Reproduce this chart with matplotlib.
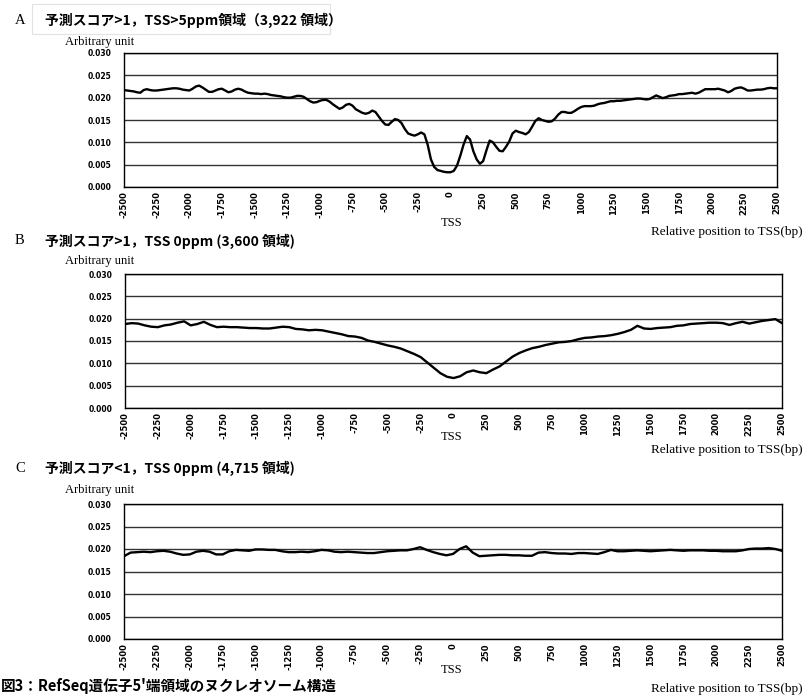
import numpy as np
import matplotlib
matplotlib.use("Agg")
import matplotlib.pyplot as plt
from matplotlib.patches import Rectangle

W, H = 807, 695

# ---- data -------------------------------------------------------------
pos_a = np.arange(-2500, 2501, 25)
score_a = [
    0.0217, 0.0216, 0.0215, 0.0214, 0.0212, 0.0211, 0.0217, 0.0219, 0.0217, 0.0216,
    0.0216, 0.0217, 0.0218, 0.0219, 0.0220, 0.0221, 0.0221, 0.0220, 0.0218, 0.0217,
    0.0216, 0.0220, 0.0225, 0.0227, 0.0223, 0.0218, 0.0213, 0.0213, 0.0216, 0.0219,
    0.0220, 0.0216, 0.0212, 0.0214, 0.0218, 0.0220, 0.0218, 0.0214, 0.0211, 0.0210,
    0.0209, 0.0209, 0.0208, 0.0209, 0.0208, 0.0206, 0.0205, 0.0204, 0.0203, 0.0201,
    0.0200, 0.0200, 0.0202, 0.0204, 0.0204, 0.0202, 0.0197, 0.0192, 0.0189, 0.0190,
    0.0193, 0.0195, 0.0195, 0.0191, 0.0185, 0.0180, 0.0175, 0.0178, 0.0184, 0.0186,
    0.0182, 0.0174, 0.0170, 0.0166, 0.0164, 0.0166, 0.0171, 0.0168, 0.0158, 0.0148,
    0.0140, 0.0139, 0.0146, 0.0152, 0.0150, 0.0143, 0.0130, 0.0120, 0.0117, 0.0115,
    0.0118, 0.0122, 0.0118, 0.0095, 0.0062, 0.0045, 0.0038, 0.0036, 0.0034, 0.0033,
    0.0033, 0.0036, 0.0048, 0.0070, 0.0095, 0.0114, 0.0106, 0.0080, 0.0062, 0.0052,
    0.0058, 0.0082, 0.0104, 0.0100, 0.0090, 0.0081, 0.0080, 0.0090, 0.0102, 0.0120,
    0.0126, 0.0123, 0.0121, 0.0118, 0.0123, 0.0135, 0.0148, 0.0154, 0.0150, 0.0148,
    0.0146, 0.0147, 0.0153, 0.0162, 0.0168, 0.0168, 0.0166, 0.0166, 0.0170, 0.0175,
    0.0179, 0.0181, 0.0181, 0.0181, 0.0182, 0.0185, 0.0187, 0.0188, 0.0190, 0.0192,
    0.0192, 0.0193, 0.0193, 0.0194, 0.0195, 0.0196, 0.0197, 0.0198, 0.0198, 0.0197,
    0.0196, 0.0197, 0.0201, 0.0205, 0.0202, 0.0199, 0.0201, 0.0204, 0.0205, 0.0206,
    0.0208, 0.0208, 0.0209, 0.0210, 0.0211, 0.0209, 0.0211, 0.0215, 0.0219, 0.0219,
    0.0219, 0.0219, 0.0220, 0.0218, 0.0216, 0.0212, 0.0215, 0.0220, 0.0222, 0.0223,
    0.0220, 0.0216, 0.0216, 0.0217, 0.0218, 0.0218, 0.0219, 0.0221, 0.0222, 0.0221,
    0.0221,
]

pos_bc = np.arange(-2500, 2501, 50)
score_b = [
    0.0188, 0.0190, 0.0189, 0.0185, 0.0182, 0.0181, 0.0185, 0.0187, 0.0191, 0.0194,
    0.0185, 0.0188, 0.0193, 0.0186, 0.0181, 0.0182, 0.0181, 0.0181, 0.0180, 0.0179,
    0.0179, 0.0178, 0.0178, 0.0180, 0.0182, 0.0181, 0.0177, 0.0176, 0.0174, 0.0175,
    0.0174, 0.0171, 0.0168, 0.0165, 0.0161, 0.0160, 0.0157, 0.0151, 0.0148, 0.0144,
    0.0140, 0.0137, 0.0133, 0.0127, 0.0121, 0.0114, 0.0102, 0.0090, 0.0078, 0.0070,
    0.0067, 0.0071, 0.0080, 0.0084, 0.0080, 0.0078, 0.0086, 0.0093, 0.0104, 0.0115,
    0.0123, 0.0129, 0.0134, 0.0137, 0.0141, 0.0144, 0.0147, 0.0148, 0.0150, 0.0154,
    0.0157, 0.0158, 0.0160, 0.0161, 0.0163, 0.0166, 0.0170, 0.0175, 0.0184, 0.0178,
    0.0177, 0.0179, 0.0180, 0.0181, 0.0184, 0.0185, 0.0188, 0.0189, 0.0190, 0.0191,
    0.0191, 0.0190, 0.0186, 0.0190, 0.0193, 0.0189, 0.0192, 0.0195, 0.0197, 0.0199,
    0.0190,
]
score_c = [
    0.0184, 0.0192, 0.0193, 0.0194, 0.0193, 0.0195, 0.0196, 0.0194, 0.0190, 0.0187,
    0.0188, 0.0194, 0.0196, 0.0194, 0.0188, 0.0188, 0.0195, 0.0198, 0.0197, 0.0196,
    0.0199, 0.0199, 0.0198, 0.0198, 0.0195, 0.0193, 0.0193, 0.0194, 0.0193, 0.0195,
    0.0198, 0.0197, 0.0194, 0.0193, 0.0194, 0.0193, 0.0192, 0.0191, 0.0191, 0.0193,
    0.0195, 0.0196, 0.0197, 0.0197, 0.0200, 0.0204, 0.0198, 0.0193, 0.0189, 0.0186,
    0.0189, 0.0200, 0.0206, 0.0192, 0.0184, 0.0185, 0.0186, 0.0187, 0.0187, 0.0186,
    0.0186, 0.0185, 0.0185, 0.0192, 0.0193, 0.0191, 0.0190, 0.0190, 0.0189, 0.0191,
    0.0191, 0.0190, 0.0189, 0.0193, 0.0198, 0.0195, 0.0195, 0.0196, 0.0197, 0.0196,
    0.0195, 0.0196, 0.0197, 0.0198, 0.0197, 0.0196, 0.0197, 0.0197, 0.0197, 0.0196,
    0.0196, 0.0195, 0.0195, 0.0195, 0.0197, 0.0200, 0.0201, 0.0201, 0.0202, 0.0200,
    0.0196,
]

x_ticks = np.arange(-2500, 2501, 250)
y_ticks = [0.000, 0.005, 0.010, 0.015, 0.020, 0.025, 0.030]
y_tick_labels = ["0.000", "0.005", "0.010", "0.015", "0.020", "0.025", "0.030"]

panel_letters = ["A", "B", "C"]
panel_titles = [
    "予測スコア>1，TSS>5ppm領域（3,922 領域）",
    "予測スコア>1，TSS 0ppm (3,600 領域)",
    "予測スコア<1，TSS 0ppm (4,715 領域)",
]
y_label = "Arbitrary unit"
tss_label = "TSS"
x_label = "Relative position to TSS(bp)"
caption = "図3：RefSeq遺伝子5'端領域のヌクレオソーム構造"

# ---- layout (pixel boxes: left, top, right, bottom) ---------------------
boxes = [(124, 53, 777, 187), (125, 274, 782, 408), (124, 504, 782, 639)]
letter_y = [20, 241, 468]
ylab_y = [42, 261, 490]
tss_y = [223, 437, 670]
xlab_y = [232, 450, 689]

CJK = ["Noto Sans CJK JP", "DejaVu Sans"]
SERIF = ["Liberation Serif", "DejaVu Serif"]

fig = plt.figure(figsize=(W / 100, H / 100), dpi=100)


def fx(x):
    return x / W


def fy(y):
    return 1 - y / H


series = [(pos_a, score_a), (pos_bc, score_b), (pos_bc, score_c)]

for i, (l, t, r, b) in enumerate(boxes):
    ax = fig.add_axes([fx(l), fy(b), (r - l) / W, (b - t) / H])
    xs, ys = series[i]
    ax.plot(xs, ys, color="black", lw=1.7, zorder=3)
    ax.set_xlim(-2500, 2500)
    ax.set_ylim(0, 0.030)
    ax.set_yticks(y_ticks)
    ax.set_yticklabels(y_tick_labels)
    ax.set_xticks(x_ticks)
    ax.set_xticklabels([str(v) for v in x_ticks], rotation=90)
    ax.tick_params(length=0, pad=3)
    for lab in ax.get_yticklabels():
        lab.set_fontsize(5.5)
        lab.set_fontweight("bold")
        lab.set_family("DejaVu Sans")
    ax.tick_params(axis="y", pad=9)
    for lab in ax.get_xticklabels():
        lab.set_fontsize(6)
        lab.set_fontweight("bold")
        lab.set_family("DejaVu Sans")
    ax.grid(axis="y", color="#333333", lw=1.0)
    ax.set_axisbelow(True)
    for s in ax.spines.values():
        s.set_color("black")
        s.set_linewidth(1.0)

    fig.text(fx(15), fy(letter_y[i]), panel_letters[i], family=SERIF,
             fontsize=10.5, va="center", ha="left")
    fig.text(fx(45), fy(letter_y[i]), panel_titles[i], family=CJK,
             fontsize=10, fontweight="bold", va="center", ha="left")
    fig.text(fx(65), fy(ylab_y[i]), y_label, family=SERIF,
             fontsize=9, va="center", ha="left")
    fig.text(fx(452), fy(tss_y[i]), tss_label, family=SERIF,
             fontsize=9, va="center", ha="center")
    fig.text(fx(803), fy(xlab_y[i]), x_label, family=SERIF,
             fontsize=9.5, va="center", ha="right")

# faint frame around the first panel heading
fig.patches.append(Rectangle((fx(32), fy(34)), (330 - 32) / W, 30 / H,
                             transform=fig.transFigure, fill=False,
                             edgecolor="#e2e2e2", lw=0.8))

fig.text(fx(1), fy(694), caption, family=CJK, fontsize=10.5,
         fontweight="bold", va="bottom", ha="left")

fig.savefig("out.png", dpi=100)
